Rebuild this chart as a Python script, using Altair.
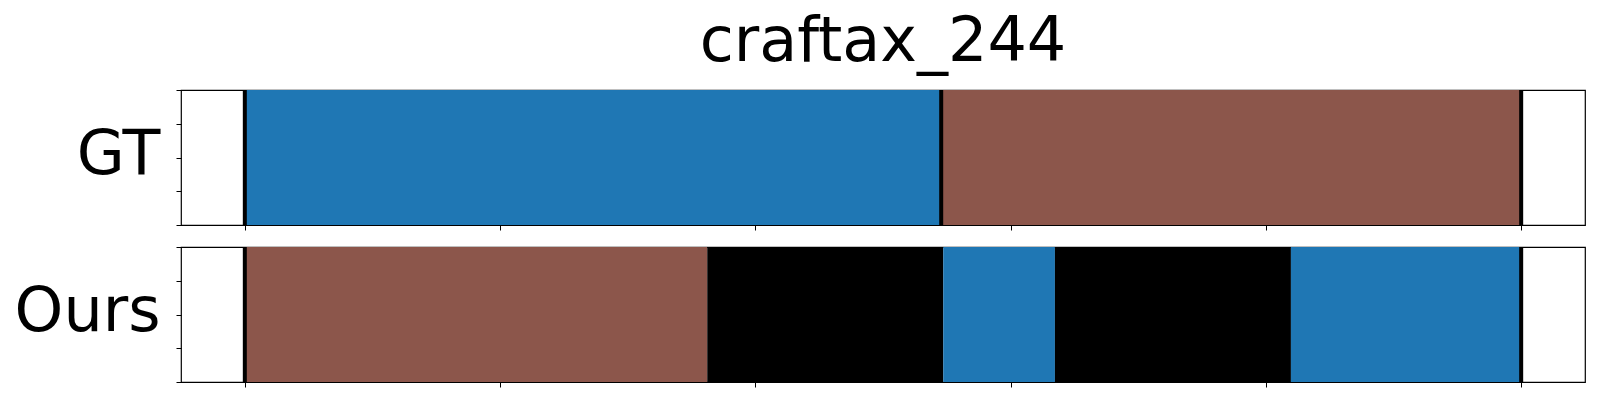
import altair as alt
import pandas as pd

# ---- data ----
classes = ["A", "B", "none"]
class_colors = ["#1f77b4", "#8c564b", "#000000"]

gt_start = [0, 54.56]
gt_end = [54.56, 100]
gt_label = ["A", "B"]
gt_bounds = [0, 54.56, 100]

ours_start = [0, 36.23, 54.72, 63.47, 81.96]
ours_end = [36.23, 54.72, 63.47, 81.96, 100]
ours_label = ["B", "none", "A", "none", "A"]
ours_bounds = [0, 100]

x_ticks = [0, 20, 40, 60, 80, 100]
y_ticks = [0, 0.25, 0.5, 0.75, 1]

W, H = 1404, 135
FONT = "DejaVu Sans"


def panel(starts, ends, labels, bounds, name):
    seg = pd.DataFrame({"start": starts, "end": ends, "label": labels,
                        "y0": [0] * len(starts), "y1": [1] * len(starts)})
    xs = alt.Scale(domain=[-5, 105], nice=False, zero=False)
    ys = alt.Scale(domain=[0, 1], nice=False, zero=False)
    x_axis = alt.Axis(values=x_ticks, labels=False, title=None, grid=False,
                      domain=False, ticks=True, tickColor="black", tickSize=5,
                      tickWidth=1)
    y_axis = alt.Axis(values=y_ticks, labels=False, grid=False, domain=False,
                      ticks=True, tickColor="black", tickSize=5, tickWidth=1,
                      title=name, titleAngle=0, titleAlign="right",
                      titleBaseline="middle", titleX=-21, titleY=H / 2 - 3,
                      titleFontSize=62, titleFont=FONT, titleFontWeight="normal",
                      titleColor="black")
    rects = alt.Chart(seg).mark_rect(strokeWidth=0).encode(
        x=alt.X("start:Q", scale=xs, axis=x_axis),
        x2="end:Q",
        y=alt.Y("y0:Q", scale=ys, axis=y_axis),
        y2="y1:Q",
        color=alt.Color("label:N", scale=alt.Scale(domain=classes, range=class_colors),
                        legend=None),
    )
    rules = alt.Chart(pd.DataFrame({"b": bounds})).mark_rule(
        color="black", strokeWidth=4).encode(x=alt.X("b:Q", scale=xs))
    return alt.layer(rects, rules).properties(width=W, height=H)


top = panel(gt_start, gt_end, gt_label, gt_bounds, "GT").properties(
    title=alt.Title("craftax_244", fontSize=62, font=FONT, fontWeight="normal",
                    color="black", anchor="middle", frame="group", offset=14)
)
bottom = panel(ours_start, ours_end, ours_label, ours_bounds, "Ours")

chart = alt.vconcat(top, bottom, spacing=12).properties(
    padding={"left": 5, "top": 2, "right": 5, "bottom": 5},
    background="white",
).configure_view(stroke="black", strokeWidth=1.2)

chart.save("out.html", embed_options={"renderer": "svg", "actions": False})
